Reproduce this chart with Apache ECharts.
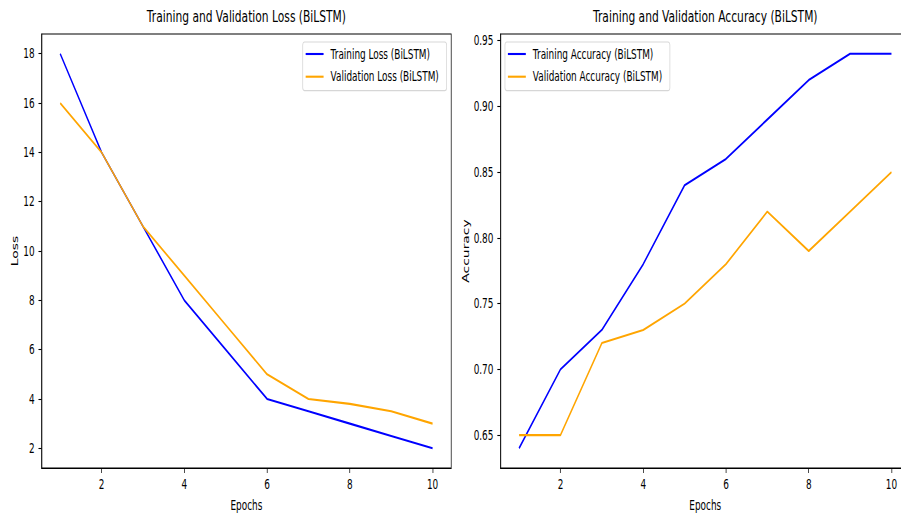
<!DOCTYPE html>
<html>
<head>
<meta charset="utf-8">
<script src="https://cdn.jsdelivr.net/npm/echarts@6/dist/echarts.min.js"></script>
<style>
html, body { margin:0; padding:0; width:901px; height:517px; overflow:hidden; background:#fff; }
#c { width:1440px; height:517px; transform:scaleX(0.64); transform-origin:0 0; }
</style>
</head>
<body>
<div id="c"></div>
<script>
const epochs = [1, 2, 3, 4, 5, 6, 7, 8, 9, 10];
const trainLoss = [18, 14, 11, 8, 6, 4, 3.5, 3, 2.5, 2];
const valLoss = [16, 14, 11, 9, 7, 5, 4, 3.8, 3.5, 3];
const trainAcc = [0.64, 0.70, 0.73, 0.78, 0.84, 0.86, 0.89, 0.92, 0.94, 0.94];
const valAcc = [0.65, 0.65, 0.72, 0.73, 0.75, 0.78, 0.82, 0.79, 0.82, 0.85];
const epochTicks = [2, 4, 6, 8, 10];
const lossTicks = [2, 4, 6, 8, 10, 12, 14, 16, 18];
const accTicks = [0.65, 0.70, 0.75, 0.80, 0.85, 0.90, 0.95];

const FONT = 'DejaVu Sans';
const FS = 13.9;
const pairs = (ys) => epochs.map((e, i) => [e, ys[i]]);

function xAxisDef(gi) {
  return {
    type: 'value', gridIndex: gi, min: 0.55, max: 10.45,
    name: 'Epochs', nameLocation: 'middle', nameGap: 30,
    nameTextStyle: { color: '#000', fontSize: FS, fontFamily: FONT },
    axisLine: { show: true, lineStyle: { color: '#000', width: 1.1 } },
    axisTick: { show: true, customValues: epochTicks, length: 4.9, lineStyle: { color: '#000', width: 1.1 } },
    axisLabel: { customValues: epochTicks, margin: 9, color: '#000', fontSize: FS, fontFamily: FONT },
    splitLine: { show: false }
  };
}
function yAxisDef(gi, min, max, ticks, name, gap, fmt) {
  return {
    type: 'value', gridIndex: gi, min: min, max: max,
    name: name, nameLocation: 'middle', nameGap: gap, nameRotate: 90,
    nameTextStyle: { color: '#000', fontSize: FS, fontFamily: FONT },
    axisLine: { show: true, lineStyle: { color: '#000', width: 1.1 } },
    axisTick: { show: true, customValues: ticks, length: 4.9, lineStyle: { color: '#000', width: 1.1 } },
    axisLabel: { customValues: ticks, margin: 11, color: '#000', fontSize: FS, fontFamily: FONT, formatter: fmt },
    splitLine: { show: false }
  };
}
function lineSeries(name, color, xi, data) {
  return {
    name: name, type: 'line', xAxisIndex: xi, yAxisIndex: xi, data: data,
    symbol: 'none', lineStyle: { color: color, width: 2.1 }, itemStyle: { color: color },
    animation: false
  };
}
function legendDef(left, names) {
  return {
    data: names, orient: 'vertical', left: left, top: 42,
    icon: 'rect', itemWidth: 28, itemHeight: 2.1, itemGap: 6.7,
    padding: [4, 12, 6, 4.6],
    backgroundColor: 'rgba(255,255,255,0.8)', borderColor: 'rgba(204,204,204,0.8)',
    borderWidth: 1.2, borderRadius: 3,
    textStyle: { color: '#000', fontSize: FS, fontFamily: FONT, lineHeight: 16, padding: [0, 0, 0, 6] }
  };
}

const chart = echarts.init(document.getElementById('c'), null, { renderer: 'svg' });
chart.setOption({
  animation: false,
  backgroundColor: '#fff',
  title: [
    { text: 'Training and Validation Loss (BiLSTM)', left: 385, top: 8, padding: 0, textAlign: 'center',
      textStyle: { color: '#000', fontSize: 16.7, fontWeight: 'normal', fontFamily: FONT } },
    { text: 'Training and Validation Accuracy (BiLSTM)', left: 1102, top: 8, padding: 0, textAlign: 'center',
      textStyle: { color: '#000', fontSize: 16.7, fontWeight: 'normal', fontFamily: FONT } }
  ],
  grid: [
    { left: 65, top: 34, width: 640, height: 436, show: true, borderColor: '#000', borderWidth: 1.1, backgroundColor: 'transparent' },
    { left: 782, top: 34, width: 640, height: 436, show: true, borderColor: '#000', borderWidth: 1.1, backgroundColor: 'transparent' }
  ],
  xAxis: [xAxisDef(0), xAxisDef(1)],
  yAxis: [
    yAxisDef(0, 1.2, 18.8, lossTicks, 'Loss', 34, (v) => String(v)),
    yAxisDef(1, 0.625, 0.955, accTicks, 'Accuracy', 47, (v) => v.toFixed(2))
  ],
  legend: [
    legendDef(473, ['Training Loss (BiLSTM)', 'Validation Loss (BiLSTM)']),
    legendDef(789, ['Training Accuracy (BiLSTM)', 'Validation Accuracy (BiLSTM)'])
  ],
  series: [
    lineSeries('Training Loss (BiLSTM)', '#0000ff', 0, pairs(trainLoss)),
    lineSeries('Validation Loss (BiLSTM)', '#ffa500', 0, pairs(valLoss)),
    lineSeries('Training Accuracy (BiLSTM)', '#0000ff', 1, pairs(trainAcc)),
    lineSeries('Validation Accuracy (BiLSTM)', '#ffa500', 1, pairs(valAcc))
  ]
});
</script>
</body>
</html>
